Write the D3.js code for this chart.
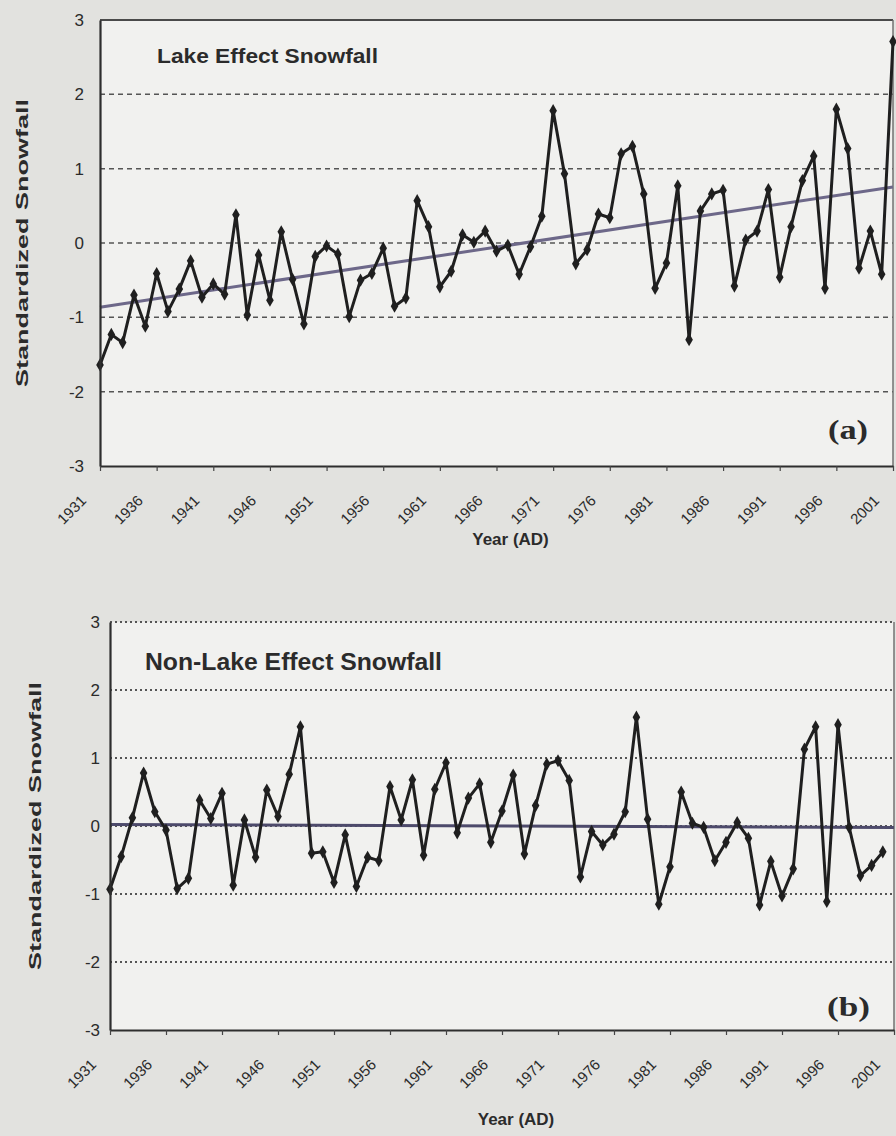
<!DOCTYPE html>
<html>
<head>
<meta charset="utf-8">
<script src="https://cdn.jsdelivr.net/npm/d3@7"></script>
<style>
  html, body { margin: 0; padding: 0; background: #e2e2df; }
  svg { display: block; }
  text { font-family: "Liberation Sans", Arial, sans-serif; fill: #2b2b2b; }
</style>
</head>
<body>
<svg id="fig" width="896" height="1136"></svg>
<script>
// Winter seasons 1931-2001 (category axis)
const years = d3.range(1931, 2002);
const tickYears = [1931, 1936, 1941, 1946, 1951, 1956, 1961, 1966, 1971, 1976, 1981, 1986, 1991, 1996, 2001];
const yTicks = [3, 2, 1, 0, -1, -2, -3];

// Standardized lake-effect snowfall, 1931-2001
const lakeEffect = [
  -1.64, -1.23, -1.34, -0.70, -1.12, -0.41, -0.92, -0.62, -0.24, -0.73,
  -0.55, -0.69,  0.38, -0.97, -0.16, -0.77,  0.15, -0.49, -1.09, -0.18,
  -0.04, -0.15, -0.99, -0.50, -0.41, -0.07, -0.85, -0.74,  0.57,  0.22,
  -0.59, -0.38,  0.11,  0.01,  0.16, -0.11, -0.03, -0.42, -0.05,  0.36,
   1.78,  0.93, -0.28, -0.09,  0.39,  0.34,  1.20,  1.30,  0.66, -0.61,
  -0.27,  0.77, -1.30,  0.43,  0.66,  0.71, -0.58,  0.04,  0.16,  0.72,
  -0.46,  0.22,  0.84,  1.17, -0.61,  1.80,  1.27, -0.34,  0.16, -0.42,
   2.71
];

// Standardized non-lake-effect snowfall, 1931-2000
const nonLakeEffect = [
  -0.93, -0.45,  0.12,  0.78,  0.21, -0.06, -0.92, -0.77,  0.38,  0.11,
   0.48, -0.87,  0.09, -0.46,  0.53,  0.14,  0.76,  1.46, -0.40, -0.38,
  -0.83, -0.13, -0.89, -0.46, -0.51,  0.58,  0.09,  0.68, -0.43,  0.54,
   0.93, -0.10,  0.41,  0.62, -0.24,  0.22,  0.75, -0.41,  0.30,  0.91,
   0.96,  0.67, -0.75, -0.08, -0.28, -0.12,  0.21,  1.60,  0.10, -1.15,
  -0.60,  0.50,  0.04, -0.02, -0.51, -0.24,  0.05, -0.18, -1.16, -0.52,
  -1.03, -0.63,  1.13,  1.46, -1.11,  1.49, -0.02, -0.73, -0.58, -0.38
];

const panels = [
  {
    values: lakeEffect, title: "Lake Effect Snowfall", tag: "(a)",
    left: 100, right: 893, top: 20, bottom: 466,
    grid: [2, 1, 0, -1, -2], gridDash: "5,4", gridWidth: 1.5, topDashed: false,
    trendColor: "#6d6889",
    titleX: 157, titleY: 63, titleSize: 21, titleLen: 221,
    tagX: 828, tagY: 439, tagSize: 27, tagLen: 40,
    yLabelGap: 16, yTitleX: 22, yTitleLen: 288,
    xTitleY: 545
  },
  {
    values: nonLakeEffect, title: "Non-Lake Effect Snowfall", tag: "(b)",
    left: 110, right: 894, top: 622, bottom: 1030,
    grid: [3, 2, 1, 0, -1, -2], gridDash: "2,3", gridWidth: 2, topDashed: true,
    trendColor: "#4d4a6b",
    titleX: 145, titleY: 670, titleSize: 23, titleLen: 297,
    tagX: 827, tagY: 1016, tagSize: 28, tagLen: 43,
    yLabelGap: 10, yTitleX: 35, yTitleLen: 288,
    xTitleY: 1125
  }
];

const svg = d3.select("#fig");

// Ordinary least-squares line through the defined points
function linearFit(xs, ys) {
  const pts = xs.map((x, i) => [x, ys[i]]).filter(p => p[1] != null);
  const mx = d3.mean(pts, p => p[0]);
  const my = d3.mean(pts, p => p[1]);
  const sxy = d3.sum(pts, p => (p[0] - mx) * (p[1] - my));
  const sxx = d3.sum(pts, p => (p[0] - mx) ** 2);
  const slope = sxy / sxx;
  return { slope, intercept: my - slope * mx };
}

function drawPanel(cfg) {
  const g = svg.append("g");
  const x = d3.scaleLinear().domain([1931, 2001]).range([cfg.left, cfg.right]);
  const y = d3.scaleLinear().domain([-3, 3]).range([cfg.bottom, cfg.top]);

  // plot area
  g.append("rect")
    .attr("x", cfg.left).attr("y", cfg.top)
    .attr("width", cfg.right - cfg.left).attr("height", cfg.bottom - cfg.top)
    .attr("fill", "#f1f1ef");

  // horizontal gridlines
  g.selectAll(".grid").data(cfg.grid).enter().append("line")
    .attr("x1", cfg.left).attr("x2", cfg.right)
    .attr("y1", d => y(d)).attr("y2", d => y(d))
    .attr("stroke", "#555").attr("stroke-width", cfg.gridWidth)
    .attr("stroke-dasharray", cfg.gridDash);

  // frame: top and right edges
  if (!cfg.topDashed) {
    g.append("line").attr("x1", cfg.left).attr("x2", cfg.right)
      .attr("y1", y(3)).attr("y2", y(3))
      .attr("stroke", "#4a4a4a").attr("stroke-width", 1.8);
  }
  g.append("line").attr("x1", cfg.right).attr("x2", cfg.right)
    .attr("y1", cfg.top).attr("y2", cfg.bottom)
    .attr("stroke", "#6a6a6a").attr("stroke-width", 1.4);

  // linear trend
  const fit = linearFit(years, cfg.values);
  g.append("line")
    .attr("x1", x(1931)).attr("x2", x(2001))
    .attr("y1", y(fit.intercept + fit.slope * 1931))
    .attr("y2", y(fit.intercept + fit.slope * 2001))
    .attr("stroke", cfg.trendColor).attr("stroke-width", 3);

  // series line
  const series = cfg.values.map((v, i) => ({ year: years[i], v }));
  const line = d3.line().x(d => x(d.year)).y(d => y(d.v));
  g.append("path").datum(series)
    .attr("d", line)
    .attr("fill", "none").attr("stroke", "#1f1f1f")
    .attr("stroke-width", 3).attr("stroke-linejoin", "round");

  // diamond markers
  const diamond = d3.symbol().type(d3.symbolDiamond).size(50);
  g.selectAll(".pt").data(series).enter().append("path")
    .attr("d", diamond)
    .attr("transform", d => `translate(${x(d.year)},${y(d.v)})`)
    .attr("fill", "#1f1f1f");

  // y axis
  const yAxis = g.append("g").attr("transform", `translate(${cfg.left},0)`)
    .call(d3.axisLeft(y).tickValues(yTicks).tickFormat(d => String(d))
      .tickSize(0).tickPadding(cfg.yLabelGap));
  yAxis.select(".domain").attr("stroke", "#2e2e2e").attr("stroke-width", 2.2);
  yAxis.selectAll("text")
    .attr("font-size", 17).attr("fill", "#2b2b2b")
    .style("font-family", "'Liberation Sans', Arial, sans-serif");

  // x axis
  const xAxis = g.append("g").attr("transform", `translate(0,${cfg.bottom})`)
    .call(d3.axisBottom(x).tickValues(tickYears).tickFormat(d => String(d))
      .tickSize(5).tickSizeOuter(0));
  xAxis.select(".domain").attr("stroke", "#2e2e2e").attr("stroke-width", 2.2);
  xAxis.selectAll(".tick line").attr("stroke", "#444").attr("stroke-width", 1.2);
  xAxis.selectAll("text")
    .attr("font-size", 15).attr("fill", "#2b2b2b")
    .style("font-family", "'Liberation Sans', Arial, sans-serif")
    .attr("text-anchor", "end")
    .attr("dy", "0.35em")
    .attr("x", 0).attr("y", 0)
    .attr("transform", "translate(-17,32) rotate(-45)");

  // in-plot title and panel tag
  g.append("text")
    .attr("x", cfg.titleX).attr("y", cfg.titleY)
    .attr("font-size", cfg.titleSize).attr("font-weight", "bold")
    .attr("textLength", cfg.titleLen).attr("lengthAdjust", "spacingAndGlyphs")
    .attr("fill", "#333")
    .text(cfg.title);
  g.append("text")
    .attr("x", cfg.tagX).attr("y", cfg.tagY)
    .attr("font-size", cfg.tagSize).attr("font-weight", "bold")
    .attr("textLength", cfg.tagLen).attr("lengthAdjust", "spacingAndGlyphs")
    .style("font-family", "'Liberation Serif', 'Times New Roman', serif")
    .attr("fill", "#2b2b2b")
    .text(cfg.tag);

  // axis titles
  g.append("text")
    .attr("transform", `translate(${cfg.yTitleX},${(cfg.top + cfg.bottom) / 2}) rotate(-90)`)
    .attr("text-anchor", "middle").attr("dominant-baseline", "central")
    .attr("font-size", 17).attr("font-weight", "bold")
    .attr("textLength", cfg.yTitleLen).attr("lengthAdjust", "spacingAndGlyphs")
    .attr("fill", "#2b2b2b")
    .text("Standardized Snowfall");
  g.append("text")
    .attr("x", (cfg.left + cfg.right) / 2 + 14).attr("y", cfg.xTitleY)
    .attr("text-anchor", "middle")
    .attr("font-size", 17).attr("font-weight", "bold")
    .attr("fill", "#2b2b2b")
    .text("Year (AD)");
}

panels.forEach(drawPanel);
</script>
</body>
</html>
